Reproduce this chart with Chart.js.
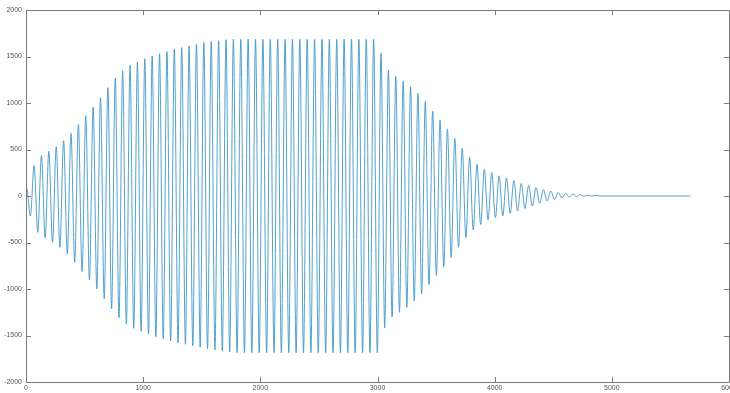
<!DOCTYPE html>
<html>
<head>
<meta charset="utf-8">
<script src="https://cdn.jsdelivr.net/npm/chart.js@4/dist/chart.umd.min.js"></script>
<style>
  html, body { margin: 0; padding: 0; background: #fff; }
  #wrap { width: 730px; height: 393px; position: relative; }
</style>
</head>
<body>
<div id="wrap"><canvas id="c"></canvas></div>
<script>
// tick labels
const xTicks = [0, 1000, 2000, 3000, 4000, 5000, 6000];
const yTicks = [-2000, -1500, -1000, -500, 0, 500, 1000, 1500, 2000];

// oscillation: one peak and one trough per cycle
const cycleStart = 6;     // x of first peak
const cycleLength = 63;   // x distance between peaks
const signalEnd = 5670;   // flat tail ends here

const peaks = [
  83, 326, 434, 480, 530, 595, 674, 767, 864, 957,
  1057, 1165, 1269, 1348, 1405, 1441, 1477, 1505, 1530, 1552,
  1577, 1595, 1613, 1630, 1649, 1663, 1670, 1681, 1685, 1685,
  1685, 1685, 1685, 1685, 1685, 1685, 1685, 1685, 1685, 1685,
  1685, 1685, 1685, 1685, 1685, 1685, 1685, 1685, 1534, 1355,
  1287, 1237, 1176, 1104, 1018, 914, 817, 720, 620, 513,
  416, 341, 287, 251, 218, 194, 165, 136, 115, 90,
  68, 54, 39, 29, 21, 15, 10, 6
];
const troughs = [
  -215, -391, -448, -498, -552, -624, -713, -810, -903, -1000,
  -1104, -1212, -1308, -1376, -1423, -1455, -1484, -1513, -1538, -1559,
  -1581, -1595, -1610, -1625, -1640, -1655, -1665, -1675, -1685, -1685,
  -1685, -1685, -1685, -1685, -1685, -1685, -1685, -1685, -1685, -1685,
  -1685, -1685, -1685, -1685, -1685, -1685, -1685, -1685, -1416, -1301,
  -1251, -1197, -1129, -1050, -953, -853, -760, -663, -552, -448,
  -366, -305, -256, -233, -212, -186, -161, -136, -108, -79,
  -54, -36, -22, -11, -7, -4, -2
];

const points = [{ x: 0, y: 0 }];
for (let i = 0; i < peaks.length; i++) {
  points.push({ x: cycleStart + cycleLength * i, y: peaks[i] });
  if (i < troughs.length) {
    points.push({ x: cycleStart + cycleLength * (i + 0.5), y: troughs[i] });
  }
}
points.push({ x: cycleStart + cycleLength * peaks.length, y: 0 });
points.push({ x: signalEnd, y: 0 });

// box around the axes with inward ticks on all four sides
const boxTicks = {
  id: 'boxTicks',
  afterDraw(chart) {
    const { ctx, chartArea: a, scales } = chart;
    ctx.save();
    ctx.strokeStyle = '#7a7a7a';
    ctx.lineWidth = 1;
    ctx.beginPath();
    ctx.rect(Math.round(a.left) + 0.5, Math.round(a.top) + 0.5,
             Math.round(a.right - a.left), Math.round(a.bottom - a.top));
    xTicks.forEach(v => {
      const px = Math.round(scales.x.getPixelForValue(v)) + 0.5;
      ctx.moveTo(px, a.bottom); ctx.lineTo(px, a.bottom - 5);
      ctx.moveTo(px, a.top); ctx.lineTo(px, a.top + 5);
    });
    yTicks.forEach(v => {
      const py = Math.round(scales.y.getPixelForValue(v)) + 0.5;
      ctx.moveTo(a.left, py); ctx.lineTo(a.left + 5, py);
      ctx.moveTo(a.right, py); ctx.lineTo(a.right - 5, py);
    });
    ctx.stroke();
    ctx.restore();
  }
};

const tickFont = { family: '"Liberation Sans", Arial, sans-serif', size: 7 };

new Chart(document.getElementById('c'), {
  type: 'line',
  data: {
    datasets: [{
      data: points,
      borderColor: 'rgb(62, 150, 200)',
      borderWidth: 0.9,
      pointRadius: 0,
      cubicInterpolationMode: 'monotone',
      fill: false
    }]
  },
  options: {
    responsive: true,
    maintainAspectRatio: false,
    animation: false,
    layout: { padding: { top: 10, right: 1, left: 0, bottom: 0 } },
    plugins: { legend: { display: false }, tooltip: { enabled: false } },
    scales: {
      x: {
        type: 'linear',
        min: 0, max: 6000,
        afterBuildTicks: s => { s.ticks = xTicks.map(v => ({ value: v })); },
        afterFit: s => { s.height = 11; s.paddingLeft = 0; s.paddingRight = 0; },
        grid: { display: false, drawTicks: false },
        border: { display: false },
        ticks: { font: tickFont, color: '#555', padding: 2, maxRotation: 0, autoSkip: false, callback: v => String(v) }
      },
      y: {
        min: -2000, max: 2000,
        afterBuildTicks: s => { s.ticks = yTicks.map(v => ({ value: v })); },
        afterFit: s => { s.width = 26; s.paddingTop = 0; s.paddingBottom = 0; },
        grid: { display: false, drawTicks: false },
        border: { display: false },
        ticks: { font: tickFont, color: '#555', padding: 4, autoSkip: false, callback: v => String(v) }
      }
    }
  },
  plugins: [boxTicks]
});
</script>
</body>
</html>
